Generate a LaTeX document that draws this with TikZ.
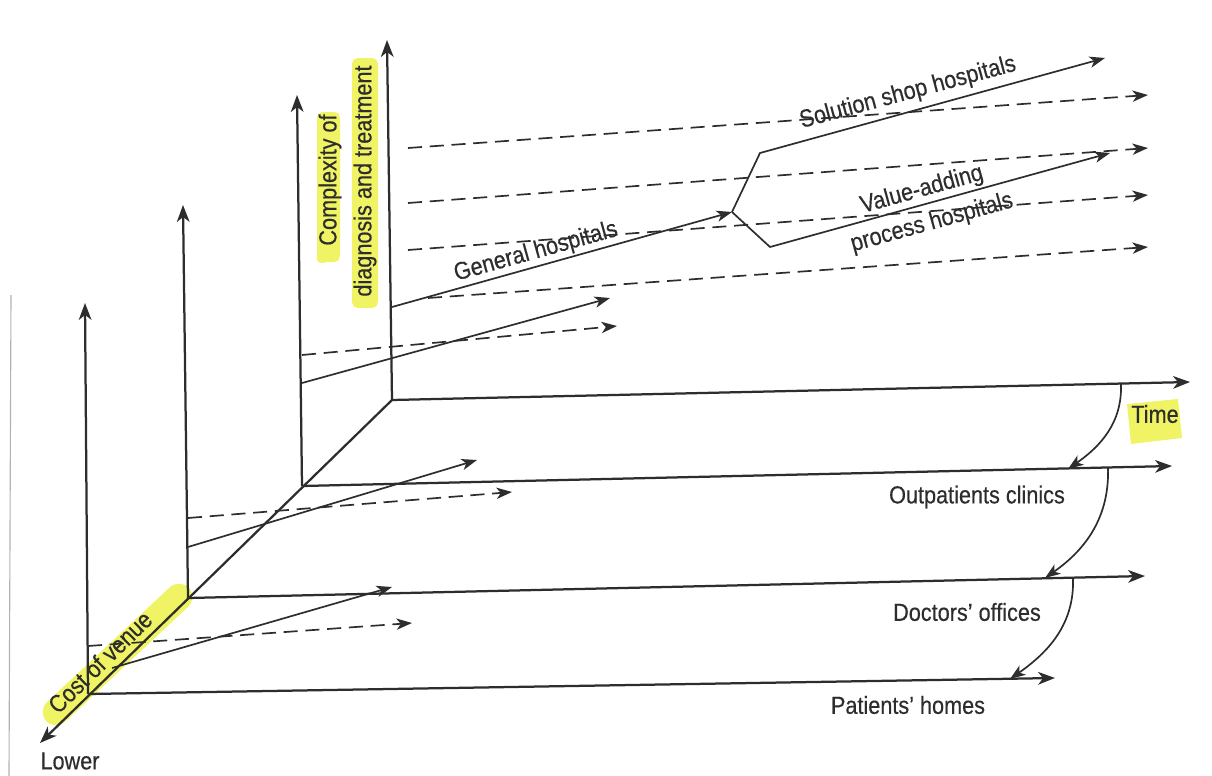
\documentclass[tikz,border=0pt]{standalone}
\usepackage{fontspec}
\setmainfont{Liberation Sans}[FakeStretch=0.88,FakeBold=0.4]
\usetikzlibrary{arrows.meta}
\definecolor{ink}{RGB}{45,45,45}
\definecolor{hilite}{RGB}{240,244,100}
\begin{document}
\begin{tikzpicture}[x=0.025cm,y=-0.025cm,
  axis/.style={ink, line width=1.6pt, -{Stealth[length=12pt,width=9pt,inset=3.5pt]}},
  ln/.style={ink, line width=1.2pt},
  arr/.style={ln, -{Stealth[length=11pt,width=8pt,inset=3pt]}},
  dsh/.style={arr, dash pattern=on 10pt off 5.5pt},
  lbl/.style={text=ink, font=\fontsize{17.5}{20}\selectfont, inner sep=0pt}]
\useasboundingbox (0,0) rectangle (1212,776);

% highlights
\fill[hilite] (1127,404) -- (1178,399) -- (1182,438) -- (1131,444) -- cycle;
\fill[hilite, rounded corners=4pt] (317,112) rectangle (340,262);
\fill[hilite] (322,250) .. controls (312,258) and (318,266) .. (326,262) -- cycle;
\fill[hilite, rounded corners=4pt] (352,58) rectangle (378,308);
\draw[hilite, line width=19pt, line cap=round] (56,712) -- (179,597);

% scan edge
\draw[gray!60, line width=0.8pt] (11,295) -- (9,776);

% coordinates
\coordinate (O1) at (88,694);
\coordinate (O2) at (188,598);
\coordinate (O3) at (302,486);
\coordinate (O4) at (392,400);
\coordinate (V1) at (85,303);
\coordinate (V2) at (183,205);
\coordinate (V3) at (297,95);
\coordinate (V4) at (387,40);
\coordinate (H1) at (1055,678);
\coordinate (H2) at (1145,576);
\coordinate (H3) at (1172,466);
\coordinate (H4) at (1190,382);
\coordinate (Low) at (40,743);

% axes
\draw[axis] (O4) -- (Low);
\draw[axis] (O1) -- (V1);
\draw[axis] (O2) -- (V2);
\draw[axis] (O3) -- (V3);
\draw[axis] (O4) -- (V4);
\draw[axis] (O1) -- (H1);
\draw[axis] (O2) -- (H2);
\draw[axis] (O3) -- (H3);
\draw[axis] (O4) -- (H4);

% level 1 (patients' homes)
\coordinate (a1s) at (112,668); \coordinate (a1e) at (392,587);
\coordinate (d1s) at (88,646);  \coordinate (d1e) at (412,623);
\draw[arr] (a1s) -- (a1e);
\draw[dsh] (d1s) -- (d1e);

% level 2 (doctors' offices)
\coordinate (a2s) at (188,547); \coordinate (a2e) at (477,460);
\coordinate (d2s) at (188,518); \coordinate (d2e) at (512,492);
\draw[arr] (a2s) -- (a2e);
\draw[dsh] (d2s) -- (d2e);

% level 3 (outpatient clinics)
\coordinate (a3s) at (302,383); \coordinate (a3e) at (610,298);
\coordinate (d3s) at (302,355); \coordinate (d3e) at (617,326);
\draw[arr] (a3s) -- (a3e);
\draw[dsh] (d3s) -- (d3e);

% level 4 (hospitals)
\coordinate (g0) at (392,307);
\coordinate (B) at (732,212);
\coordinate (u1) at (760,153); \coordinate (u2) at (1105,58);
\coordinate (w1) at (770,247); \coordinate (w2) at (1110,153);
\draw[arr] (g0) -- (B);
\draw[arr] (B) -- (u1) -- (u2);
\draw[arr] (B) -- (w1) -- (w2);
\coordinate (e1s) at (408,148); \coordinate (e1e) at (1148,95);
\coordinate (e2s) at (408,203); \coordinate (e2e) at (1148,148);
\coordinate (e3s) at (408,250); \coordinate (e3e) at (1148,195);
\coordinate (e4s) at (428,298); \coordinate (e4e) at (1148,247);
\draw[dsh] (e1s) -- (e1e);
\draw[dsh] (e2s) -- (e2e);
\draw[dsh] (e3s) -- (e3e);
\draw[dsh] (e4s) -- (e4e);

% time arcs
\coordinate (t1s) at (1121,384); \coordinate (t1e) at (1068,469);
\coordinate (t2s) at (1108,467); \coordinate (t2e) at (1045,578);
\coordinate (t3s) at (1073,578); \coordinate (t3e) at (1010,679);
\draw[arr] (t1s) to[out=-88,in=35] (t1e);
\draw[arr] (t2s) to[out=-88,in=35] (t2e);
\draw[arr] (t3s) to[out=-88,in=35] (t3e);

% labels
\node[lbl] (time) at (1155,414) {Time};
\node[lbl] (outp) at (977,497) {Outpatients clinics};
\node[lbl] (doc) at (967,612) {Doctors’ offices};
\node[lbl] (pat) at (908,705) {Patients’ homes};
\node[lbl] (low) at (70,761) {Lower};
\node[lbl, rotate=44.3] (cost) at (100,662) {Cost of venue};
\node[lbl, rotate=90] (cx1) at (330,180) {Complexity of};
\node[lbl, rotate=90] (cx2) at (365,181) {diagnosis and treatment};
\node[lbl, rotate=15.6] (gen) at (536,252) {General hospitals};
\node[lbl, rotate=15] (sol) at (908,93) {Solution shop hospitals};
\node[lbl, rotate=15.5] (va) at (922,190) {Value-adding};
\node[lbl, rotate=15.5] (ph) at (932,223) {process hospitals};
\end{tikzpicture}
\end{document}
